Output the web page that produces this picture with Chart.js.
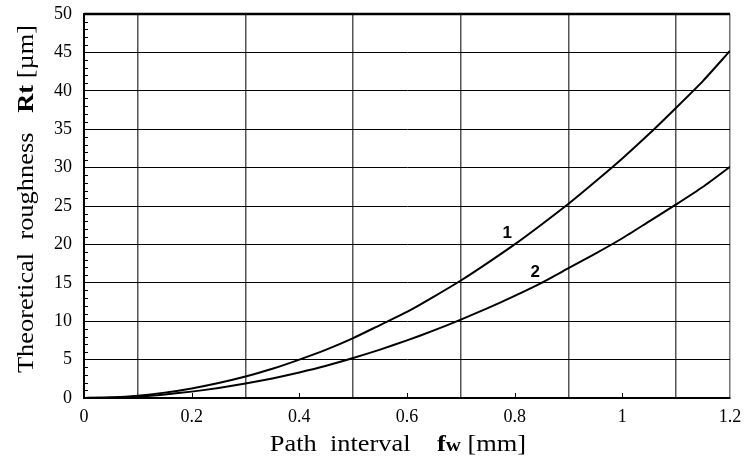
<!DOCTYPE html>
<html>
<head>
<meta charset="utf-8">
<script src="https://cdn.jsdelivr.net/npm/chart.js@4/dist/chart.umd.min.js"></script>
<style>
  body { margin: 0; background: #fff; }
  #wrap { width: 744px; height: 460px; }
</style>
</head>
<body>
<div id="wrap"><canvas id="roughness" width="744" height="460"></canvas></div>
<script>
  // path interval fw [mm]
  const pathInterval = [0, 0.05, 0.1, 0.15, 0.2, 0.25, 0.3, 0.35, 0.4, 0.45, 0.5, 0.55, 0.6,
    0.65, 0.7, 0.75, 0.8, 0.85, 0.9, 0.95, 1.0, 1.05, 1.1, 1.15, 1.2];
  // theoretical roughness Rt [um]
  const curve1 = [0, 0.08, 0.3, 0.7, 1.25, 1.95, 2.8, 3.8, 5.0, 6.3, 7.8, 9.5, 11.2,
    13.2, 15.3, 17.6, 20.0, 22.6, 25.3, 28.2, 31.2, 34.4, 37.8, 41.3, 45.2];
  const curve2 = [0, 0.05, 0.2, 0.47, 0.83, 1.3, 1.88, 2.55, 3.33, 4.2, 5.2, 6.3, 7.5,
    8.8, 10.2, 11.7, 13.3, 15.0, 16.9, 18.8, 20.8, 23.0, 25.2, 27.5, 30.1];
  const curveNames = ['1', '2'];
  const curveLabelAt = [[0.786, 21.5], [0.838, 16.4]];

  const toPoints = (ys) => pathInterval.map((x, i) => ({ x: x, y: ys[i] }));

  const serif = '"Liberation Serif", "Times New Roman", serif';

  // draws text pieces in a row, each with its own font, centred on 0
  const drawParts = (c, parts, stretch) => {
    let total = 0;
    parts.forEach(p => { c.font = p[1]; total += c.measureText(p[0]).width; });
    c.scale(stretch, 1);
    let x = -total / 2;
    parts.forEach(p => {
      c.font = p[1];
      c.fillText(p[0], x, p[2] || 0);
      x += c.measureText(p[0]).width;
    });
  };

  const extras = {
    id: 'extras',
    beforeDatasetsDraw(chart) {
      const c = chart.ctx, a = chart.chartArea;
      const xs = chart.scales.x, ys = chart.scales.y;
      c.save();
      c.strokeStyle = '#000';
      c.lineWidth = 1;
      // small inner ticks on the y axis
      for (let v = 1; v < 50; v++) {
        if (v % 5 === 0) continue;
        const py = Math.round(ys.getPixelForValue(v)) + 0.5;
        c.beginPath(); c.moveTo(a.left, py); c.lineTo(a.left + 4, py); c.stroke();
      }
      // inner ticks on the x axis at the even tenths
      for (let k = 2; k < 12; k += 2) {
        const px = Math.round(xs.getPixelForValue(k / 10)) + 0.5;
        c.beginPath(); c.moveTo(px, a.bottom); c.lineTo(px, a.bottom - 5); c.stroke();
      }
      // top frame
      c.lineWidth = 2.5;
      c.beginPath(); c.moveTo(a.left, a.top); c.lineTo(a.right, a.top); c.stroke();
      c.restore();
    },
    afterDraw(chart) {
      const c = chart.ctx;
      const xs = chart.scales.x, ys = chart.scales.y;
      c.save();
      c.fillStyle = '#000';
      // curve numbers
      c.font = 'bold 17px "Liberation Sans", Arial, sans-serif';
      c.textAlign = 'center';
      c.textBaseline = 'middle';
      curveNames.forEach((n, i) => {
        c.fillText(n, xs.getPixelForValue(curveLabelAt[i][0]), ys.getPixelForValue(curveLabelAt[i][1]));
      });
      c.restore();

      c.save();
      c.fillStyle = '#000';
      c.textBaseline = 'alphabetic';
      c.textAlign = 'left';
      c.translate(398, 451);
      drawParts(c, [
        ['Path  interval    ', '24px ' + serif],
        ['f', 'bold 24px ' + serif],
        ['w', 'bold 19px ' + serif],
        [' [mm]', '24px ' + serif]
      ], 1.1);
      c.restore();

      c.save();
      c.fillStyle = '#000';
      c.textBaseline = 'alphabetic';
      c.textAlign = 'left';
      c.translate(33, 199);
      c.rotate(-Math.PI / 2);
      drawParts(c, [
        ['Theoretical  roughness   ', '24px ' + serif],
        ['Rt', 'bold 24px ' + serif],
        [' [\u00b5m]', '24px ' + serif]
      ], 1.1);
      c.restore();
    }
  };

  const config = {
    type: 'line',
    data: {
      datasets: [
        { label: curveNames[0], data: toPoints(curve1), borderColor: '#000', borderWidth: 2,
          pointRadius: 0, tension: 0.2, fill: false },
        { label: curveNames[1], data: toPoints(curve2), borderColor: '#000', borderWidth: 2,
          pointRadius: 0, tension: 0.2, fill: false }
      ]
    },
    options: {
      responsive: false,
      animation: false,
      layout: { padding: { top: 14, right: 14, left: 0, bottom: 0 } },
      plugins: {
        legend: { display: false },
        tooltip: { enabled: false },
        title: { display: false }
      },
      scales: {
        x: {
          type: 'linear',
          min: 0,
          max: 1.2,
          afterFit: (s) => { s.height = 62; s.paddingLeft = 0; s.paddingRight = 0; },
          border: { color: '#000', width: 2 },
          grid: {
            drawTicks: false,
            lineWidth: 1.5,
            color: (ctx) => {
              if (ctx.index === 12) return '#777';
              return ctx.index % 2 === 1 ? '#555' : 'rgba(0,0,0,0)';
            }
          },
          ticks: {
            stepSize: 0.1,
            padding: 8,
            color: '#000',
            font: { family: serif, size: 18 },
            maxRotation: 0,
            autoSkip: false,
            callback: (v, i) => (i % 2 === 0 ? String(+v.toFixed(1)) : '')
          }
        },
        y: {
          type: 'linear',
          min: 0,
          max: 50,
          afterFit: (s) => { s.width = 84; s.paddingTop = 0; s.paddingBottom = 0; },
          border: { color: '#000', width: 2 },
          grid: {
            drawTicks: false,
            color: '#000',
            lineWidth: 1
          },
          ticks: {
            stepSize: 5,
            padding: 12,
            color: '#000',
            font: { family: serif, size: 18 }
          }
        }
      }
    },
    plugins: [extras]
  };

  new Chart(document.getElementById('roughness'), config);
</script>
</body>
</html>
